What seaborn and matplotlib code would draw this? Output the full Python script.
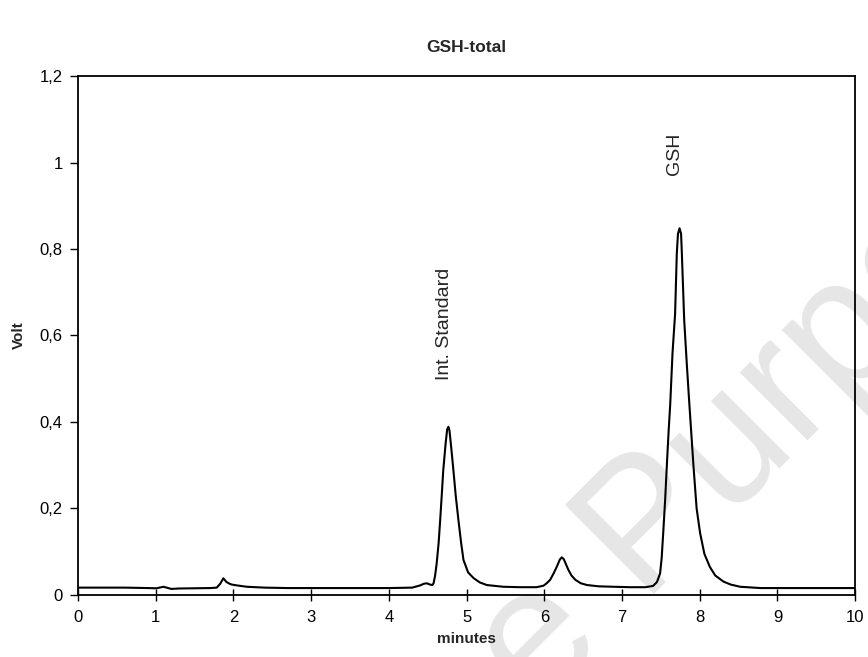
import pandas as pd
import seaborn as sns
import matplotlib.pyplot as plt

# Chromatogram trace (time in minutes, signal in volt)
minutes = [0.0, 0.3, 0.6, 0.9, 1.01, 1.10, 1.20, 1.30, 1.50, 1.70, 1.785, 1.83, 1.87,
           1.91, 1.95, 1.98, 2.05, 2.17, 2.40, 2.70, 3.00, 3.50, 4.00, 4.30, 4.40,
           4.45, 4.49, 4.53, 4.56, 4.575, 4.595, 4.615, 4.64, 4.66, 4.68, 4.70, 4.73,
           4.75, 4.766, 4.78, 4.80, 4.83, 4.86, 4.895, 4.93, 4.96, 5.02, 5.09, 5.17,
           5.26, 5.47, 5.69, 5.90, 5.99, 6.03, 6.075, 6.12, 6.16, 6.20, 6.225, 6.25,
           6.31, 6.35, 6.40, 6.47, 6.55, 6.70, 6.89, 7.10, 7.30, 7.40, 7.45, 7.49,
           7.51, 7.53, 7.555, 7.576, 7.60, 7.62, 7.65, 7.683, 7.705, 7.72, 7.74, 7.76,
           7.77, 7.80, 7.835, 7.867, 7.92, 7.96, 8.005, 8.06, 8.13, 8.20, 8.305, 8.40,
           8.52, 8.78, 9.00, 9.50, 10.0]
volt = [0.017, 0.017, 0.017, 0.016, 0.0155, 0.019, 0.014, 0.015, 0.0155, 0.016, 0.017,
        0.026, 0.0386, 0.030, 0.026, 0.024, 0.022, 0.019, 0.017, 0.016, 0.016, 0.016,
        0.016, 0.017, 0.022, 0.026, 0.027, 0.024, 0.023, 0.027, 0.045, 0.073, 0.12,
        0.173, 0.23, 0.289, 0.35, 0.383, 0.389, 0.38, 0.345, 0.289, 0.23, 0.173, 0.12,
        0.081, 0.052, 0.039, 0.029, 0.023, 0.019, 0.018, 0.018, 0.0215, 0.027, 0.035,
        0.050, 0.065, 0.082, 0.087, 0.083, 0.058, 0.045, 0.035, 0.027, 0.023, 0.020,
        0.019, 0.018, 0.018, 0.021, 0.030, 0.050, 0.085, 0.143, 0.22, 0.297, 0.38,
        0.44, 0.56, 0.65, 0.79, 0.835, 0.848, 0.835, 0.79, 0.636, 0.53, 0.44, 0.297,
        0.20, 0.143, 0.095, 0.065, 0.045, 0.031, 0.024, 0.019, 0.016, 0.016, 0.016,
        0.016]

y_ticks = [0, 0.2, 0.4, 0.6, 0.8, 1.0, 1.2]
y_labels = ['0', '0,2', '0,4', '0,6', '0,8', '1', '1,2']
x_ticks = list(range(0, 11))

peak_names = ['Int. Standard', 'GSH']
peak_label_x = [4.72, 7.68]
peak_label_y = [0.497, 0.971]

data = pd.DataFrame({'minutes': minutes, 'Volt': volt})

sns.set_style('ticks')
plt.rcParams['font.family'] = ['Liberation Sans', 'DejaVu Sans']

fig = plt.figure(figsize=(8.68, 6.57), dpi=100)
ax = fig.add_axes([0.0899, 0.0944, 0.8953, 0.7899])

sns.lineplot(data=data, x='minutes', y='Volt', color='black', linewidth=1.5, ax=ax)

ax.set_xlim(0, 10)
ax.set_ylim(0, 1.2)
ax.set_xticks(x_ticks)
ax.set_yticks(y_ticks)
ax.set_yticklabels(y_labels)
ax.tick_params(axis='x', direction='inout', length=9, width=1, labelsize=12, pad=6, colors='black')
ax.tick_params(axis='y', direction='out', length=6, width=1, labelsize=12, pad=5, colors='black')
for side in ['top', 'right', 'bottom', 'left']:
    ax.spines[side].set_visible(True)
    ax.spines[side].set_linewidth(1.3)
    ax.spines[side].set_color('black')

ax.set_title('GSH-total', fontsize=12.5, fontweight='bold', pad=17)
ax.set_xlabel('minutes', fontsize=11, fontweight='bold', labelpad=5)
ax.set_ylabel('Volt', fontsize=11, fontweight='bold', labelpad=10)

# peak annotations
for name, px, py in zip(peak_names, peak_label_x, peak_label_y):
    ax.text(px, py, name, rotation=90, ha='center', va='bottom', fontsize=14)

# faint watermark
fig.text(0.695, 0.040, 'Reference', rotation=45, rotation_mode='anchor', ha='right',
         va='baseline', fontsize=130, color='black', alpha=0.1, zorder=10)
fig.text(0.737, 0.095, 'Purposes', rotation=45, rotation_mode='anchor', ha='left',
         va='baseline', fontsize=130, color='black', alpha=0.1, zorder=10)

plt.savefig('out.png', dpi=100)
